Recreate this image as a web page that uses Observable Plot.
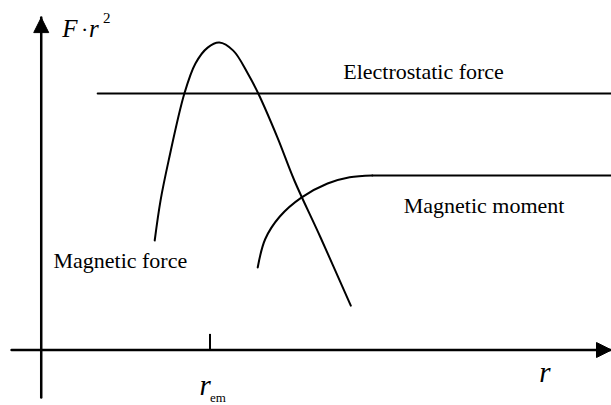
<!DOCTYPE html>
<html><head><meta charset="utf-8">
<script src="https://cdn.jsdelivr.net/npm/d3@7"></script>
<script src="https://cdn.jsdelivr.net/npm/@observablehq/plot@0.6"></script>
<style>body{margin:0;background:#fff}svg{display:block}</style>
</head><body><div id="chart"></div>
<script>
// Magnetic force curve (r, F·r²)
const magForceR = [1.95, 2.05, 2.19, 2.46, 2.65, 2.86, 3.06, 3.30, 3.55, 3.73, 4.06, 4.35, 4.80, 5.32];
const magForceV = [3.65, 4.98, 6.32, 8.55, 9.55, 10.08, 10.25, 9.98, 9.22, 8.55, 7.08, 5.65, 3.75, 1.48];
// Magnetic moment curve
const magMomentR = [3.72, 3.85, 4.10, 4.47, 4.92, 5.30, 5.69, 9.8];
const magMomentV = [2.75, 3.70, 4.45, 5.08, 5.55, 5.76, 5.82, 5.82];
// Electrostatic force (constant)
const electroR = [0.97, 9.8];
const electroV = [8.55, 8.55];
// Axes extents
const xAxisR = [-0.51, 9.8];
const yAxisV = [-1.58, 11.08];
const rEm = 2.9;
// Texts
const curveLabels = ["Electrostatic force", "Magnetic moment", "Magnetic force"];
const yTitle = ["F", "·", "r", "2"];
const xTitle = "r";
const rEmLabel = ["r", "em"];

const W = 611, H = 405;
const xDom = [-0.7, 9.8], yDom = [-1.85, 11.65];
const kx = W / (xDom[1] - xDom[0]);   // px per x unit
const ky = H / (yDom[1] - yDom[0]);   // px per y unit

const zip = (xs, ys) => xs.map((x, i) => ({x, y: ys[i]}));

// Arrow heads (built from axis ends, head size in px)
const headLen = 15, headHalf = 7.5;
const xHead = [
  {x: xAxisR[1], y: 0},
  {x: xAxisR[1] - headLen / kx, y: headHalf / ky},
  {x: xAxisR[1] - headLen / kx, y: -headHalf / ky},
  {x: xAxisR[1], y: 0}
];
const yHead = [
  {x: 0, y: yAxisV[1]},
  {x: headHalf / kx, y: yAxisV[1] - headLen / ky},
  {x: -headHalf / kx, y: yAxisV[1] - headLen / ky},
  {x: 0, y: yAxisV[1]}
];

const serif = "Liberation Serif, Times New Roman, serif";
const t = (text, x, y, size, style, anchor) =>
  Plot.text([text], {x: () => x, y: () => y, text: d => d, fontSize: size, fontStyle: style || "normal",
    textAnchor: anchor || "start", lineAnchor: "bottom", fill: "black"});

const chart = Plot.plot({
  width: W, height: H, margin: 0,
  x: {domain: xDom, axis: null},
  y: {domain: yDom, axis: null},
  style: {fontFamily: serif, background: "white"},
  marks: [
    // axes
    Plot.line(zip(xAxisR, [0, 0]), {x: "x", y: "y", stroke: "black", strokeWidth: 2.5}),
    Plot.line(zip([0, 0], yAxisV), {x: "x", y: "y", stroke: "black", strokeWidth: 2.5}),
    Plot.line(xHead, {x: "x", y: "y", fill: "black", stroke: "black", strokeWidth: 1}),
    Plot.line(yHead, {x: "x", y: "y", fill: "black", stroke: "black", strokeWidth: 1}),
    Plot.ruleX([rEm], {y1: 0, y2: 0.52, stroke: "black", strokeWidth: 2}),
    // curves
    Plot.line(zip(electroR, electroV), {x: "x", y: "y", stroke: "black", strokeWidth: 2}),
    Plot.line(zip(magForceR, magForceV), {x: "x", y: "y", stroke: "black", strokeWidth: 2, curve: "catmull-rom"}),
    Plot.line(zip(magMomentR.slice(0, -1), magMomentV.slice(0, -1)), {x: "x", y: "y", stroke: "black", strokeWidth: 2, curve: "catmull-rom"}),
    Plot.line(zip(magMomentR.slice(-2), magMomentV.slice(-2)), {x: "x", y: "y", stroke: "black", strokeWidth: 2}),
    // labels
    t(curveLabels[0], 5.19, 9.05, 22),
    t(curveLabels[1], 6.23, 4.58, 22),
    t(curveLabels[2], 0.21, 2.75, 22),
    t(yTitle[0], 0.36, 10.42, 25, "italic"),
    t(yTitle[1], 0.745, 10.42, 22, "normal", "middle"),
    t(yTitle[2], 0.82, 10.42, 25, "italic"),
    t(yTitle[3], 1.06, 10.9, 15),
    t(xTitle, 8.56, -1.08, 29, "italic"),
    t(rEmLabel[0], 2.72, -1.5, 29, "italic"),
    t(rEmLabel[1], 2.9, -1.72, 13)
  ]
});
document.getElementById("chart").appendChild(chart);
</script>
</body></html>
